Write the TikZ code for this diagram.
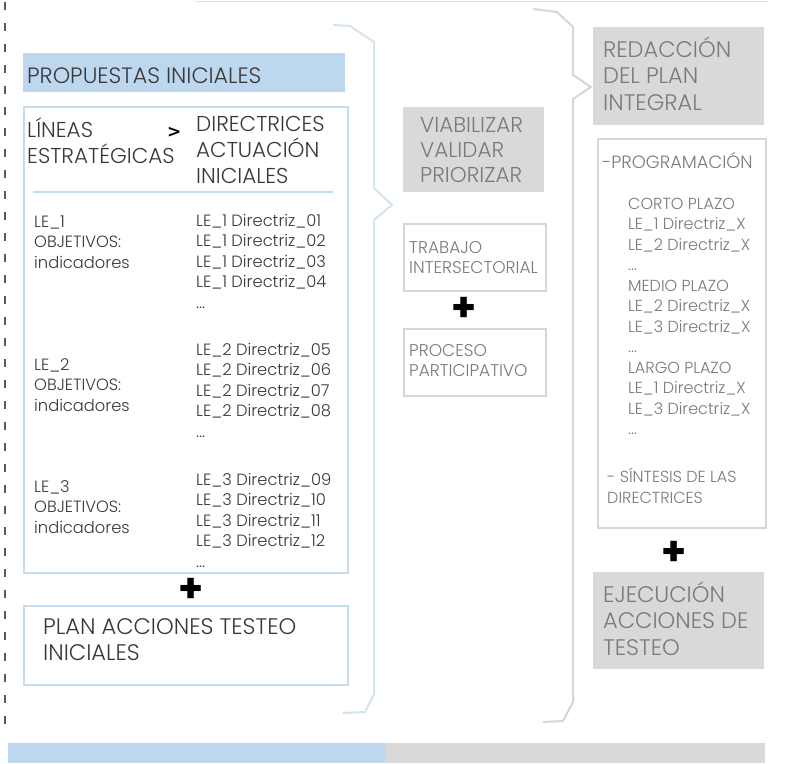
\documentclass[tikz,border=0pt]{standalone}
\usepackage{fontspec}
\setmainfont{Poppins}[UprightFont={* Light}, BoldFont={* Bold}]
\newfontfamily\symfont{DejaVu Sans}
\definecolor{lbfill}{HTML}{BDD7EE}
\definecolor{lbline}{HTML}{C6DEEB}
\definecolor{lbbrace}{HTML}{D2E5F1}
\definecolor{gfill}{HTML}{D9D9D9}
\definecolor{gline}{HTML}{D6D6D6}
\definecolor{gtext}{HTML}{7A7A7A}
\definecolor{dtext}{HTML}{383838}
\definecolor{dashcol}{HTML}{5A5A5A}
\begin{document}
\begin{tikzpicture}[x=1pt,y=-1pt,
  txt/.style={anchor=base west, inner sep=0pt, align=left, text=dtext},
  gtxt/.style={txt, text=gtext},
  bbox/.style={draw=lbline, line width=2pt, anchor=north west, inner sep=0pt},
  gbox/.style={draw=gline, line width=2pt, anchor=north west, inner sep=0pt},
  gfbox/.style={fill=gfill, anchor=north west, inner sep=0pt},
  plus/.style={inner sep=0pt, font=\fontsize{40}{40}\selectfont\bfseries, text=black},
  fA/.style={font=\fontsize{21.5}{26}\selectfont},
  fB/.style={font=\fontsize{16.3}{20.5}\selectfont},
  fC/.style={font=\fontsize{22.5}{26.5}\selectfont},
  fD/.style={font=\fontsize{17}{20}\selectfont},
  fE/.style={font=\fontsize{16}{20.5}\selectfont},
  fV/.style={font=\fontsize{21.5}{25}\selectfont}
]
\useasboundingbox (0,0) rectangle (792,763);
\fill[white] (0,0) rectangle (792,763);

% top faint line and left dashed line
\draw[lbbrace, line width=1.5pt] (195,1.5) -- (768,1.5);
\draw[dashcol, line width=1.8pt, dash pattern=on 8pt off 13pt] (5,2) -- (5,733);

% bottom bars
\fill[lbfill] (8,743) rectangle (385,763);
\fill[gfill] (385,743) rectangle (765,763);

% ---------- left column ----------
\node[fill=lbfill, anchor=north west, inner sep=0pt, minimum width=322pt, minimum height=39pt] (prop) at (23,53) {};
\node[txt, font=\fontsize{22.2}{24}\selectfont] (propt) at (27,83) {PROPUESTAS INICIALES};

\node[bbox, minimum width=324pt, minimum height=466pt] (big) at (23,106) {};
\node[txt, fA] (lin) at (27,163) {LÍNEAS\\ESTRATÉGICAS};
\node[txt, font=\fontsize{17}{20}\symfont\bfseries, text=black] (gt) at (167,137) {>};
\node[txt, fA] (dir) at (196,183) {DIRECTRICES\\ACTUACIÓN\\INICIALES};
\draw[lbline, line width=2pt] (33,192) coordinate (hl1) -- (333,192) coordinate (hl2);

\node[txt, fB] (le1) at (34,268) {LE\_1\\OBJETIVOS:\\indicadores};
\node[txt, fB] (d1) at (196,308) {LE\_1 Directriz\_01\\LE\_1 Directriz\_02\\LE\_1 Directriz\_03\\LE\_1 Directriz\_04\\...};
\node[txt, fB] (le2) at (34,411) {LE\_2\\OBJETIVOS:\\indicadores};
\node[txt, fB] (d2) at (196,437) {LE\_2 Directriz\_05\\LE\_2 Directriz\_06\\LE\_2 Directriz\_07\\LE\_2 Directriz\_08\\...};
\node[txt, fB] (le3) at (34,533) {LE\_3\\OBJETIVOS:\\indicadores};
\node[txt, fB] (d3) at (196,567) {LE\_3 Directriz\_09\\LE\_3 Directriz\_10\\LE\_3 Directriz\_11\\LE\_3 Directriz\_12\\...};

\node[plus] (p1) at (191,590) {+};

\node[bbox, minimum width=324pt, minimum height=79pt] (plan) at (23,605) {};
\node[txt, font=\fontsize{22.5}{26}\selectfont] (plant) at (43,660) {PLAN ACCIONES TESTEO\\INICIALES};

% brace 1
\draw[lbbrace, line width=2pt, line join=round]
  (333,25) -- (350,26) -- (374,42) -- (374,188) -- (392,205) -- (374,220)
  -- (374,694) -- (365,712) -- (343,713);

% ---------- middle column ----------
\node[gfbox, minimum width=141pt, minimum height=85pt] (viab) at (403,107) {};
\node[gtxt, fV] (viabt) at (420,182) {VIABILIZAR\\VALIDAR\\PRIORIZAR};

\node[gbox, minimum width=142pt, minimum height=67pt] (trab) at (403,223) {};
\node[gtxt, fD] (trabt) at (409,273) {TRABAJO\\INTERSECTORIAL};
\node[plus] (p2) at (464,309) {+};
\node[gbox, minimum width=142pt, minimum height=67pt] (proc) at (403,328) {};
\node[gtxt, fD] (proct) at (409,376) {PROCESO\\PARTICIPATIVO};

% brace 2
\draw[gline, line width=2pt, line join=round]
  (533,9) -- (557,12) -- (573,27) -- (573,75) -- (591,87) -- (573,99)
  -- (573,702) -- (563,721) -- (543,722);

% ---------- right column ----------
\node[gfbox, minimum width=171pt, minimum height=98pt] (red) at (593,27) {};
\node[gtxt, fC] (redt) at (603,110) {REDACCIÓN\\DEL PLAN\\INTEGRAL};

\node[gbox, minimum width=168pt, minimum height=389pt] (prog) at (597,138) {};
\node[gtxt, font=\fontsize{17.8}{20}\selectfont] (progt) at (602,168) {-PROGRAMACIÓN};
\node[gtxt, fE] (plazos) at (628,434.5) {CORTO PLAZO\\LE\_1 Directriz\_X\\LE\_2 Directriz\_X\\...\\MEDIO PLAZO\\LE\_2 Directriz\_X\\LE\_3 Directriz\_X\\...\\LARGO PLAZO\\LE\_1 Directriz\_X\\LE\_3 Directriz\_X\\...};
\node[gtxt, fE] (sint) at (607,503) {- SÍNTESIS DE LAS\\DIRECTRICES};

\node[plus] (p3) at (674,553) {+};

\node[gfbox, minimum width=171pt, minimum height=97pt] (ejec) at (593,572) {};
\node[gtxt, fC] (eject) at (603,655) {EJECUCIÓN\\ACCIONES DE\\TESTEO};
\end{tikzpicture}
\end{document}
